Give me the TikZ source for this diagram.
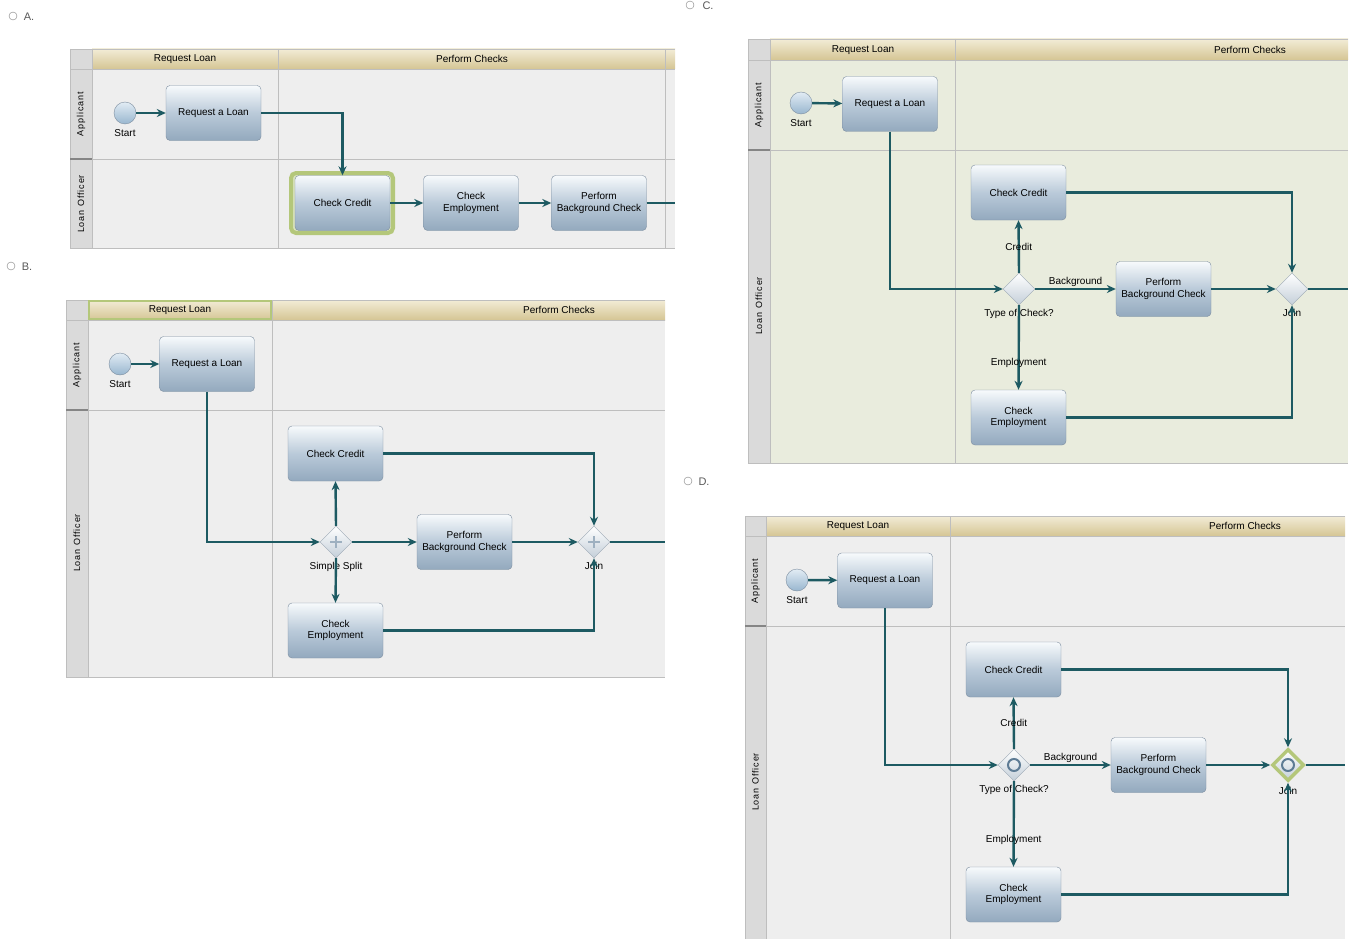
\documentclass[tikz,border=0pt]{standalone}
\usepackage{fontspec}
\setmainfont{Liberation Sans}
\newfontfamily\lanefont[LetterSpace=10]{Liberation Sans}
\usetikzlibrary{shapes.geometric}
\usetikzlibrary{arrows.meta}

\definecolor{flowc}{HTML}{1D5A62}
\definecolor{poolbg}{HTML}{EEEEEE}
\definecolor{poolgreen}{HTML}{E9ECDD}
\definecolor{hdrtop}{HTML}{F2ECD6}
\definecolor{hdrbot}{HTML}{D5C594}
\definecolor{lanehd}{HTML}{DADADA}
\definecolor{gridc}{HTML}{BEBEBE}
\definecolor{tasktop}{HTML}{F7FAFC}
\definecolor{taskmid}{HTML}{BACAD9}
\definecolor{taskbot}{HTML}{93A9BE}
\definecolor{taskline}{HTML}{7D8EA0}
\definecolor{hilite}{HTML}{B4C77A}
\definecolor{evtop}{HTML}{E2ECF4}
\definecolor{evbot}{HTML}{98B6CF}
\definecolor{gateline}{HTML}{9AA7B3}
\definecolor{gatebot}{HTML}{C4CFD9}
\definecolor{marker}{HTML}{5E7C95}

\begin{document}
\begin{tikzpicture}[x=1pt,y=-1pt,>={Stealth[length=9pt,width=8pt]},font=\fontsize{10}{11.5}\selectfont]
\tikzstyle{task}=[rectangle,rounded corners=4pt,draw=taskline,top color=tasktop,bottom color=taskbot,middle color=taskmid,minimum width=95pt,minimum height=55pt,align=center,inner sep=1pt]
\tikzstyle{ev}=[circle,draw=taskline,top color=evtop,bottom color=evbot,minimum size=22pt,inner sep=0pt]
\tikzstyle{gate}=[diamond,draw=gateline,top color=white,bottom color=gatebot,minimum width=32pt,minimum height=32pt,inner sep=0pt]
\tikzstyle{flow}=[->,draw=flowc,line width=2.4pt]
\tikzstyle{line}=[draw=flowc,line width=2.4pt]
\tikzstyle{lbl}=[inner sep=1pt]
\tikzstyle{grid}=[draw=gridc,line width=0.8pt]
\tikzstyle{lane}=[rotate=90,font=\lanefont\fontsize{9}{10}\selectfont]
\tikzstyle{radio}=[font=\fontsize{11}{12}\selectfont,text=black!65]
\useasboundingbox[fill=white] (0,0) rectangle (1351,939);

% A.
\draw[gray] (13,16) circle (4pt);
\node[radio] (radA) at (29,17) {A.};
\fill[poolbg] (70,49) rectangle (675,248);
\shade[top color=hdrtop,bottom color=hdrbot] (92,49) rectangle (675,69);
\fill[lanehd] (70,49) rectangle (92,248);
\draw[grid] (70,49) -- (675,49) (70,248) -- (675,248) (70,49) -- (70,248);
\draw[grid] (70,69) -- (675,69) (92,159) -- (675,159);
\draw[grid] (92,49) -- (92,248) (278,49) -- (278,248) (665,49) -- (665,248);
\draw[gridc!70!black,line width=1.5pt] (70,159) -- (92,159);
\node (hReqA) at (185,59) {Request Loan};
\node (hChkA) at (472,59) {Perform Checks};
\node[lane] (appA) at (81,114) {Applicant};
\node[lane] (offA) at (81,204) {Loan Officer};
\node[ev, label={[lbl,label distance=4pt]below:Start}] (startA) at (125,113) {};
\node[task] (reqA) at (213.5,113) {Request a Loan};
\draw[hilite,line width=4pt,rounded corners=5pt,fill=hilite!50] (291,173) rectangle (393,233);
\node[task] (credA) at (342.5,203) {Check Credit};
\node[task] (empA) at (471,203) {Check\\Employment};
\node[task] (bgA) at (599,203) {Perform\\Background Check};
\coordinate (outA) at (675,203);
\draw[flow] (startA) -- (reqA);
\draw[flow] (reqA.east) -| (credA.north);
\draw[flow] (credA) -- (empA);
\draw[flow] (empA) -- (bgA);
\draw[line] (bgA.east) -- (outA);

% B.
\draw[gray] (11,266) circle (4pt);
\node[radio] (radB) at (27,267) {B.};
\fill[poolbg] (66,300) rectangle (665,677);
\shade[top color=hdrtop,bottom color=hdrbot] (88,300) rectangle (665,320);
\fill[lanehd] (66,300) rectangle (88,677);
\draw[grid] (66,300) -- (665,300) (66,677) -- (665,677) (66,300) -- (66,677);
\draw[grid] (66,320) -- (665,320) (88,410) -- (665,410);
\draw[grid] (88,300) -- (88,677) (272,300) -- (272,677);
\draw[gridc!70!black,line width=1.5pt] (66,410) -- (88,410);
\draw[hilite,line width=2pt] (89,301) rectangle (271,319);
\node (hReqB) at (180,310) {Request Loan};
\node (hChkB) at (559,310) {Perform Checks};
\node[lane] (appB) at (77,365) {Applicant};
\node[lane] (offB) at (77,543) {Loan Officer};
\node[ev, label={[lbl,label distance=4pt]below:Start}] (startB) at (120,364) {};
\node[task] (reqB) at (207,364) {Request a Loan};
\node[task] (credB) at (335.5,453.5) {Check Credit};
\node[task] (empB) at (335.5,630.5) {Check\\Employment};
\node[task] (bgB) at (464.5,542) {Perform\\Background Check};
\node[gate, label={[lbl,label distance=3pt]below:Simple Split}] (splitB) at (336,542) {};
\node[gate, label={[lbl,label distance=3pt]below:Join}] (joinB) at (594,542) {};
\draw[marker!60,line width=1.8pt] (splitB.center) +(0,-6) -- +(0,6) +(-6,0) -- +(6,0);
\draw[marker!60,line width=1.8pt] (joinB.center) +(0,-6) -- +(0,6) +(-6,0) -- +(6,0);
\coordinate (outB) at (665,542);
\draw[flow] (startB) -- (reqB);
\draw[flow] (reqB.south) |- (splitB.west);
\draw[flow] (splitB.north) -- (credB.south);
\draw[flow] (splitB.south) -- (empB.north);
\draw[flow] (splitB.east) -- (bgB.west);
\draw[flow] (bgB.east) -- (joinB.west);
\draw[flow] (credB.east) -| (joinB.north);
\draw[flow] (empB.east) -| (joinB.south);
\draw[line] (joinB.east) -- (outB);

% C.
\draw[gray] (690,5) circle (4pt);
\node[radio] (radC) at (708,6) {C.};
\fill[poolgreen] (748,39) rectangle (1348,463);
\shade[top color=hdrtop,bottom color=hdrbot] (770,39) rectangle (1348,60);
\fill[lanehd] (748,39) rectangle (770,463);
\draw[grid] (748,39) -- (1348,39) (748,463) -- (1348,463) (748,39) -- (748,463);
\draw[grid] (748,60) -- (1348,60) (770,150) -- (1348,150);
\draw[grid] (770,39) -- (770,463) (955,39) -- (955,463);
\draw[gridc!70!black,line width=1.5pt] (748,150) -- (770,150);
\node (hReqC) at (863,50) {Request Loan};
\node (hChkC) at (1250,50) {Perform Checks};
\node[lane] (appC) at (759,105) {Applicant};
\node[lane] (offC) at (759,306) {Loan Officer};
\node[ev, label={[lbl,label distance=4pt]below:Start}] (startC) at (801,103) {};
\node[task] (reqC) at (890,104) {Request a Loan};
\node[task] (credC) at (1018.5,192.5) {Check Credit};
\node[task] (empC) at (1018.5,417.5) {Check\\Employment};
\node[task] (bgC) at (1163.5,289) {Perform\\Background Check};
\node[gate, label={[lbl,label distance=3pt]below:Type of Check?}] (typeC) at (1019,289) {};
\node[gate, label={[lbl,label distance=3pt]below:Join}] (joinC) at (1292,289) {};
\coordinate (outC) at (1348,289);
\draw[flow] (startC) -- (reqC);
\draw[flow] (reqC.south) |- (typeC.west);
\draw[flow] (typeC.north) -- node[lbl] {Credit} (credC.south);
\draw[flow] (typeC.south) -- node[lbl,pos=0.68] {Employment} (empC.north);
\draw[flow] (typeC.east) -- node[lbl,above] {Background} (bgC.west);
\draw[flow] (bgC.east) -- (joinC.west);
\draw[flow] (credC.east) -| (joinC.north);
\draw[flow] (empC.east) -| (joinC.south);
\draw[line] (joinC.east) -- (outC);

% D.
\draw[gray] (688,481) circle (4pt);
\node[radio] (radD) at (704,482) {D.};
\fill[poolbg] (745,516) rectangle (1345,939);
\shade[top color=hdrtop,bottom color=hdrbot] (766,516) rectangle (1345,536);
\fill[lanehd] (745,516) rectangle (766,939);
\draw[grid] (745,516) -- (1345,516) (745,516) -- (745,939);
\draw[grid] (745,536) -- (1345,536) (766,626) -- (1345,626);
\draw[grid] (766,516) -- (766,939) (950,516) -- (950,939);
\draw[gridc!70!black,line width=1.5pt] (745,626) -- (766,626);
\node (hReqD) at (858,526) {Request Loan};
\node (hChkD) at (1245,526) {Perform Checks};
\node[lane] (appD) at (755.5,581) {Applicant};
\node[lane] (offD) at (755.5,782) {Loan Officer};
\node[ev, label={[lbl,label distance=4pt]below:Start}] (startD) at (797,580) {};
\node[task] (reqD) at (885,580.5) {Request a Loan};
\node[task] (credD) at (1013.5,669.5) {Check Credit};
\node[task] (empD) at (1013.5,894.5) {Check\\Employment};
\node[task] (bgD) at (1158.5,765) {Perform\\Background Check};
\node[gate, label={[lbl,label distance=3pt]below:Type of Check?}] (typeD) at (1014,765) {};
\node[gate, draw=hilite, line width=3.5pt, label={[lbl,label distance=3pt]below:Join}] (joinD) at (1288,765) {};
\draw[marker,line width=2pt] (typeD.center) circle (6pt);
\draw[marker,line width=2pt] (joinD.center) circle (6pt);
\coordinate (outD) at (1345,765);
\draw[flow] (startD) -- (reqD);
\draw[flow] (reqD.south) |- (typeD.west);
\draw[flow] (typeD.north) -- node[lbl] {Credit} (credD.south);
\draw[flow] (typeD.south) -- node[lbl,pos=0.68] {Employment} (empD.north);
\draw[flow] (typeD.east) -- node[lbl,above] {Background} (bgD.west);
\draw[flow] (bgD.east) -- (joinD.west);
\draw[flow] (credD.east) -| (joinD.north);
\draw[flow] (empD.east) -| (joinD.south);
\draw[line] (joinD.east) -- (outD);
\end{tikzpicture}
\end{document}
